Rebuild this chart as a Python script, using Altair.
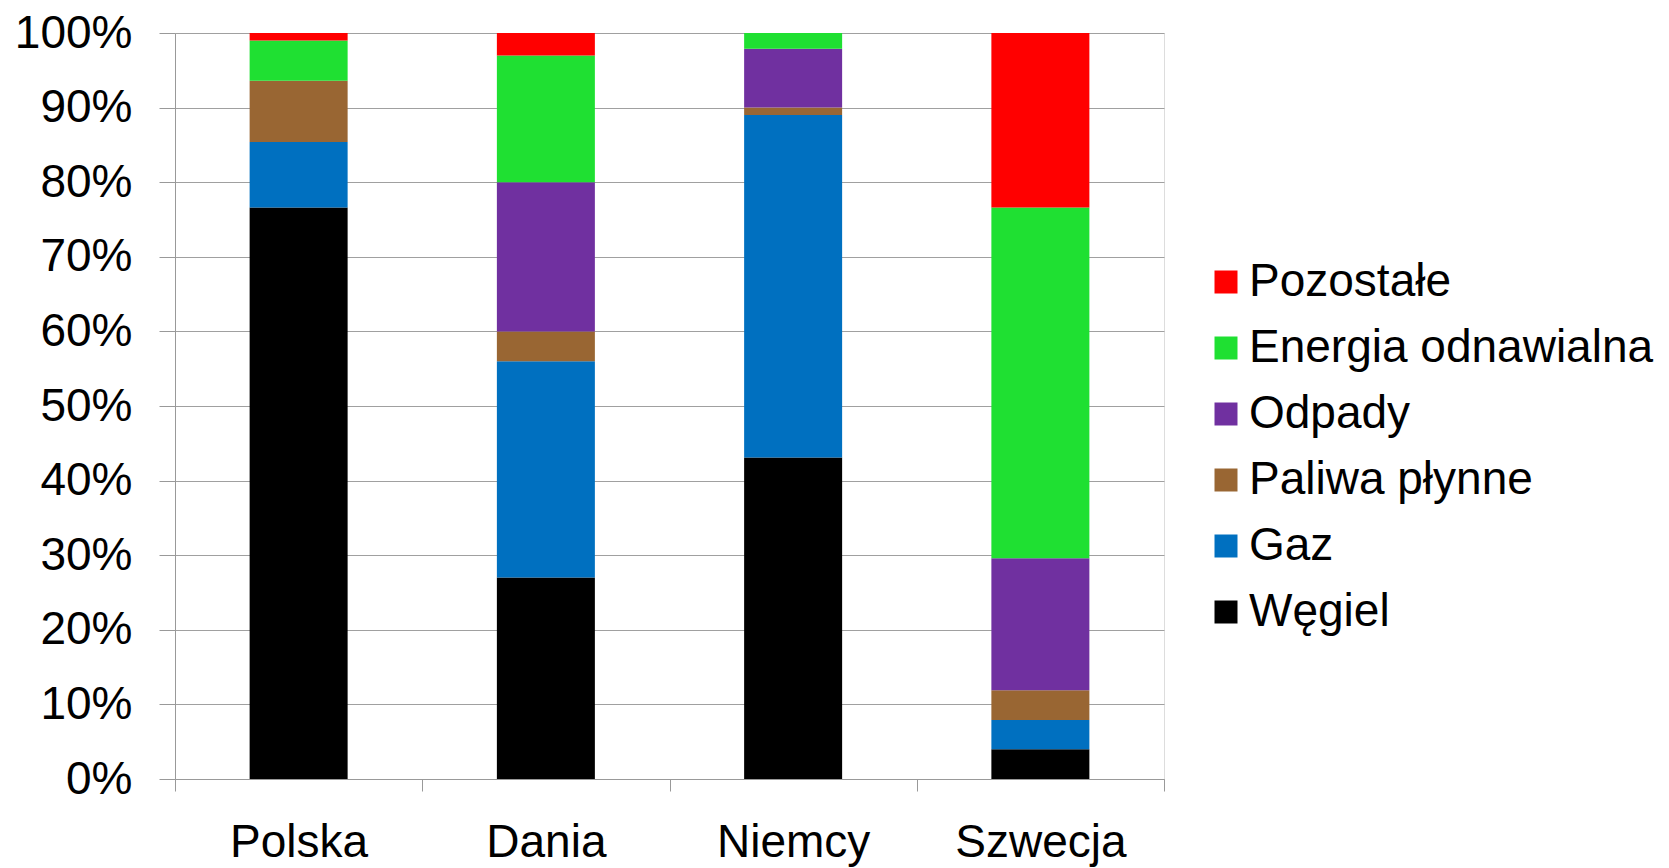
import altair as alt
import pandas as pd

countries = ["Polska", "Dania", "Niemcy", "Szwecja"]
sources = ["Pozostałe", "Energia odnawialna", "Odpady", "Paliwa płynne", "Gaz", "Węgiel"]
colors = ["#FF0000", "#1FE032", "#7030A0", "#996633", "#0070C0", "#000000"]

wegiel = [76.6, 27.0, 43.1, 4.0]
gaz = [8.8, 29.0, 45.9, 3.9]
paliwa = [8.2, 4.0, 1.0, 4.0]
odpady = [0.0, 20.0, 7.9, 17.7]
energia = [5.4, 17.0, 2.1, 47.0]
pozostale = [1.0, 3.0, 0.0, 23.4]

series = {
    "Węgiel": wegiel,
    "Gaz": gaz,
    "Paliwa płynne": paliwa,
    "Odpady": odpady,
    "Energia odnawialna": energia,
    "Pozostałe": pozostale,
}
stack_rank = {"Węgiel": 0, "Gaz": 1, "Paliwa płynne": 2, "Odpady": 3,
              "Energia odnawialna": 4, "Pozostałe": 5}

rows = []
for name, vals in series.items():
    for c, v in zip(countries, vals):
        rows.append({"kraj": c, "zrodlo": name, "udzial": v, "rank": stack_rank[name]})
df = pd.DataFrame(rows)

FONT = "Liberation Sans"
FS = 46

chart = alt.Chart(df).mark_bar(size=98).encode(
    x=alt.X("kraj:N", sort=countries, title=None,
            scale=alt.Scale(paddingInner=0, paddingOuter=0),
            axis=alt.Axis(labelAngle=0, labelFontSize=FS, labelFont=FONT, labelColor="#000000",
                          labelPadding=29, tickSize=12, tickBand="extent", tickColor="#999999",
                          domainColor="#999999", grid=False)),
    y=alt.Y("udzial:Q", stack="normalize", title=None,
            scale=alt.Scale(domain=[0, 1], nice=False),
            axis=alt.Axis(format=".0%", values=[i / 10 for i in range(11)],
                          labelFontSize=FS, labelFont=FONT, labelColor="#000000",
                          labelPadding=27, tickSize=16, tickColor="#999999",
                          domainColor="#999999", gridColor="#a0a0a0", grid=True)),
    color=alt.Color("zrodlo:N", title=None,
                    scale=alt.Scale(domain=sources, range=colors),
                    legend=alt.Legend(orient="none", legendX=1028, legendY=226,
                                      labelFontSize=FS, labelFont=FONT, labelColor="#000000",
                                      symbolType="square", symbolSize=529, symbolStrokeWidth=0,
                                      symbolOpacity=1, labelOffset=0, rowPadding=20,
                                      labelLimit=600)),
    order=alt.Order("rank:Q", sort="ascending"),
).properties(
    width=989,
    height=746,
    autosize=alt.AutoSizeParams(type="none"),
    padding={"left": 175, "top": 33, "right": 505, "bottom": 89},
).configure_view(stroke=None).configure(background="white")

chart.save("out.html", embed_options={"renderer": "svg", "actions": False})
